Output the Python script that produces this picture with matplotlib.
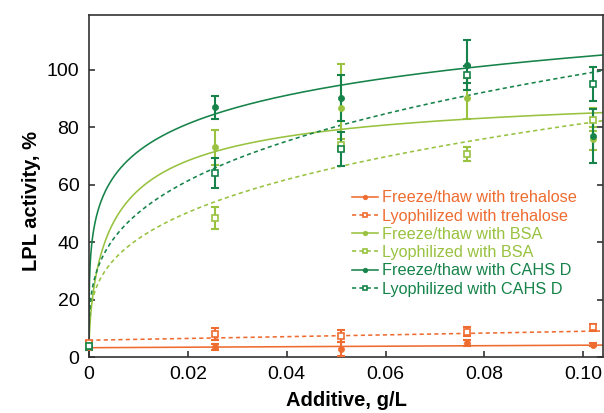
import numpy as np
import matplotlib
matplotlib.use("Agg")
import matplotlib.pyplot as plt
from matplotlib.lines import Line2D

plt.rcParams['font.family'] = ['Liberation Sans', 'DejaVu Sans']

# ---- data ----
x_pts = [0.0, 0.0255, 0.051, 0.0765, 0.102]

tre_ft = [3.5, 3.6, 3.0, 5.0, 4.5]
tre_ft_err = [0.5, 1.0, 2.5, 1.0, 0.6]
tre_ly = [5.0, 8.2, 7.5, 9.0, 10.5]
tre_ly_err = [0.6, 2.0, 2.0, 1.5, 1.2]

bsa_ft = [4.0, 73.0, 86.8, 90.0, 76.0]
bsa_ft_err = [1.0, 6.0, 15.0, 7.0, 4.0]
bsa_ly = [4.0, 48.5, 74.0, 70.8, 82.6]
bsa_ly_err = [1.0, 3.8, 2.0, 2.5, 4.0]

cahs_ft = [4.0, 87.0, 90.3, 101.7, 77.0]
cahs_ft_err = [1.0, 4.0, 8.0, 8.7, 9.5]
cahs_ly = [4.0, 64.1, 72.5, 98.3, 95.1]
cahs_ly_err = [1.5, 5.3, 6.0, 3.0, 6.0]

labels = ["Freeze/thaw with trehalose", "Lyophilized with trehalose",
          "Freeze/thaw with BSA", "Lyophilized with BSA",
          "Freeze/thaw with CAHS D", "Lyophilized with CAHS D"]

# fitted-curve parameters: y = y0 + a*x^b / (1 + c*x^b)
fit_y0 = [3.4, 6.0, 4.0, 4.0, 4.0, 4.0]
fit_a = [8.7, 31.0, 3308.0, 160.4, 411.3, 193.0]
fit_b = [1.0, 1.0, 0.7, 0.317, 0.3, 0.31]
fit_c = [0.0, 0.0, 35.92, 0.0, 2.096, 0.0]

xticks = [0, 0.02, 0.04, 0.06, 0.08, 0.10]
xticklabels = ["0", "0.02", "0.04", "0.06", "0.08", "0.10"]
yticks = [0, 20, 40, 60, 80, 100]

orange = "#EE6C30"
lgreen = "#98C23F"
dgreen = "#16834A"
colors = [orange, orange, lgreen, lgreen, dgreen, dgreen]
dashed = [False, True, False, True, False, True]
values = [tre_ft, tre_ly, bsa_ft, bsa_ly, cahs_ft, cahs_ly]
errors = [tre_ft_err, tre_ly_err, bsa_ft_err, bsa_ly_err, cahs_ft_err, cahs_ly_err]

fig = plt.figure(figsize=(6.04, 4.13), dpi=100)
ax = fig.add_axes([0.1474, 0.1344, 0.8510, 0.8293])

xc = np.linspace(0, 0.104, 3000)
dash_style = (0, (2.6, 2.0))
handles = []
for i in range(6):
    xb = xc ** fit_b[i]
    yc = fit_y0[i] + fit_a[i] * xb / (1 + fit_c[i] * xb)
    ls = dash_style if dashed[i] else '-'
    ax.plot(xc, yc, color=colors[i], lw=1.15, ls=ls, zorder=2 + i * 0.1)
    if dashed[i]:
        mk = dict(marker='s', ms=4.6, mfc='white', mec=colors[i], mew=1.2)
    else:
        mk = dict(marker='o', ms=4.4, mfc=colors[i], mec=colors[i], mew=0.5)
    ax.errorbar(x_pts, values[i], yerr=errors[i], fmt='none', ecolor=colors[i],
                elinewidth=1.5, capsize=2.6, capthick=1.5, zorder=3 + i * 0.1,
                clip_on=False)
    ax.plot(x_pts, values[i], ls='none', zorder=4 + i * 0.1, clip_on=False, **mk)
    handles.append(Line2D([], [], color=colors[i], lw=1.15, ls=ls, **mk))

ax.set_xlim(0, 0.104)
ax.set_ylim(0, 119)
ax.set_xticks(xticks)
ax.set_xticklabels(xticklabels)
ax.set_yticks(yticks)

for s in ax.spines.values():
    s.set_linewidth(1.2)
    s.set_color('#333333')

ax.tick_params(axis='both', direction='in', length=4, width=1.1, labelsize=14,
               colors='#222222', labelcolor='black')
ax.tick_params(axis='y', right=True, pad=7)
ax.tick_params(axis='x', pad=6)

ax.set_xlabel("Additive, g/L", fontsize=14.5, fontweight='bold', labelpad=6)
ax.set_ylabel("LPL activity, %", fontsize=14.5, fontweight='bold')
ax.yaxis.set_label_coords(-0.093, 0.457)

leg = ax.legend(handles, labels, loc='upper left', bbox_to_anchor=(0.511, 0.488),
                frameon=False, fontsize=11.7, borderpad=0, borderaxespad=0,
                handlelength=1.64, handletextpad=0.2, labelspacing=0.2,
                numpoints=1, markerscale=0.75)
for t, c in zip(leg.get_texts(), colors):
    t.set_color(c)

fig.savefig("out.png", dpi=100)
